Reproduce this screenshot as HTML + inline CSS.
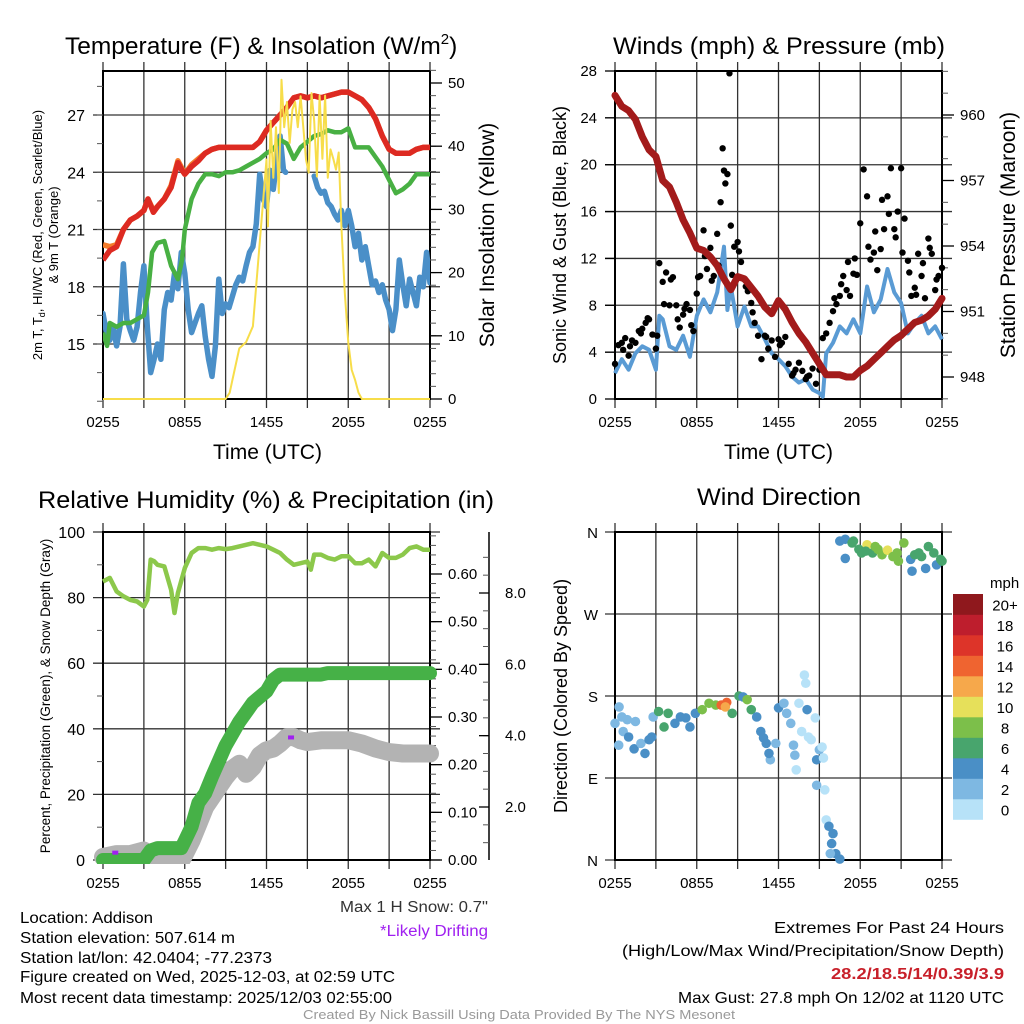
<!DOCTYPE html>
<html><head><meta charset="utf-8">
<style>
html,body{margin:0;padding:0;background:#fff;}
svg{display:block;font-family:"Liberation Sans",sans-serif;}
</style></head>
<body>
<svg id="chart" width="1024" height="1024" viewBox="0 0 1024 1024" xmlns="http://www.w3.org/2000/svg">
<rect width="1024" height="1024" fill="#fff"/>
<g id="p1"></g>
<g id="p2"></g>
<g id="p3"></g>
<g id="p4"></g>

<text x="65" y="54" font-size="24.5">Temperature (F) &amp; Insolation (W/m<tspan font-size="15" dy="-10">2</tspan><tspan dy="10">)</tspan></text>
<text x="613" y="54" font-size="24.5" textLength="332" lengthAdjust="spacingAndGlyphs">Winds (mph) &amp; Pressure (mb)</text>
<text x="38" y="508" font-size="24.5" textLength="456" lengthAdjust="spacingAndGlyphs">Relative Humidity (%) &amp; Precipitation (in)</text>
<text x="697" y="505" font-size="24.5" textLength="164" lengthAdjust="spacingAndGlyphs">Wind Direction</text>

<text x="213" y="459" font-size="21" textLength="109" lengthAdjust="spacingAndGlyphs">Time (UTC)</text>
<text x="724" y="459" font-size="21" textLength="109" lengthAdjust="spacingAndGlyphs">Time (UTC)</text>

<g font-size="13" text-anchor="middle">
<text transform="translate(42,235) rotate(-90)">2m T, T<tspan font-size="9" dy="3">d</tspan><tspan dy="-3">, HI/WC (Red, Green, Scarlet/Blue)</tspan></text>
<text transform="translate(58,235) rotate(-90)">&amp; 9m T (Orange)</text>
</g>
<text transform="translate(494,235) rotate(-90)" font-size="21" text-anchor="middle">Solar Insolation (Yellow)</text>
<text transform="translate(566,235) rotate(-90)" font-size="18" text-anchor="middle">Sonic Wind &amp; Gust (Blue, Black)</text>
<text transform="translate(1015,235) rotate(-90)" font-size="21" text-anchor="middle">Station Pressure (Maroon)</text>
<text transform="translate(50,696) rotate(-90)" font-size="13.5" text-anchor="middle">Percent, Precipitation (Green), &amp; Snow Depth (Gray)</text>
<text transform="translate(567,696) rotate(-90)" font-size="18" text-anchor="middle">Direction (Colored By Speed)</text>

<g font-size="15.5">
<text x="20" y="923" textLength="133" lengthAdjust="spacingAndGlyphs">Location: Addison</text>
<text x="20" y="943" textLength="215" lengthAdjust="spacingAndGlyphs">Station elevation: 507.614 m</text>
<text x="20" y="963" textLength="252" lengthAdjust="spacingAndGlyphs">Station lat/lon: 42.0404; -77.2373</text>
<text x="20" y="982" textLength="375" lengthAdjust="spacingAndGlyphs">Figure created on Wed, 2025-12-03, at 02:59 UTC</text>
<text x="20" y="1003" textLength="372" lengthAdjust="spacingAndGlyphs">Most recent data timestamp: 2025/12/03 02:55:00</text>
</g>
<text x="488" y="912" font-size="15.5" text-anchor="end" fill="#333" textLength="148" lengthAdjust="spacingAndGlyphs">Max 1 H Snow: 0.7"</text>
<text x="488" y="936" font-size="15.5" text-anchor="end" fill="#a020f0" textLength="108" lengthAdjust="spacingAndGlyphs">*Likely Drifting</text>
<g font-size="16" text-anchor="end">
<text x="1004" y="933" textLength="230" lengthAdjust="spacingAndGlyphs">Extremes For Past 24 Hours</text>
<text x="1004" y="956" textLength="382" lengthAdjust="spacingAndGlyphs">(High/Low/Max Wind/Precipitation/Snow Depth)</text>
<text x="1004" y="979" fill="#c8202a" font-weight="bold" textLength="173" lengthAdjust="spacingAndGlyphs">28.2/18.5/14/0.39/3.9</text>
<text x="1004" y="1003" textLength="326" lengthAdjust="spacingAndGlyphs">Max Gust: 27.8 mph On 12/02 at 1120 UTC</text>
</g>
<text x="519" y="1019" font-size="12.5" fill="#999" text-anchor="middle" textLength="432" lengthAdjust="spacingAndGlyphs">Created By Nick Bassill Using Data Provided By The NYS Mesonet</text>
</svg>
<script>
// ---- Temperature panel data (hours since 0255 UTC) ----
const tempHours = [0,0.5,1,1.5,2,2.5,3,3.3,3.7,4,4.5,5,5.5,5.8,6,6.5,7,7.5,8,8.5,9,9.5,10,10.5,11,11.5,12,12.5,13,13.5,14,14.5,15,15.5,16,16.5,17,17.5,18,18.5,19,19.5,20,20.5,21,21.5,22,22.5,23,23.5,24];
const tempRed = [19.4,19.9,20.1,21.0,21.5,21.7,22.0,22.6,21.9,22.2,22.6,23.2,24.5,24.1,23.9,24.3,24.6,25.0,25.2,25.3,25.3,25.3,25.3,25.3,25.3,25.6,26.2,26.6,27.0,27.4,27.9,28.0,27.9,28.0,27.9,28.0,28.1,28.2,28.2,28.0,27.8,27.4,26.8,25.9,25.2,25.0,25.0,25.0,25.2,25.3,25.3];
const tempOrange = [20.2,20.1,20.2,21.0,21.5,21.7,22.0,22.6,22.0,22.2,22.6,23.3,24.6,24.2,23.9,24.4,24.7,25.0,25.2,25.3,25.3,25.3,25.3,25.3,25.3,25.6,26.2,26.6,27.0,27.4,27.9,28.0,27.9,28.0,27.9,28.0,28.1,28.2,28.2,28.0,27.8,27.4,26.8,25.9,25.2,25.0,25.0,25.0,25.2,25.3,25.3];
const dewHours = [0,0.3,0.5,1,1.5,2,2.5,3,3.3,3.6,4,4.5,5,5.5,5.8,6,6.5,7,7.5,8,8.5,9,9.5,10,10.5,11,11.5,12,12.5,13,13.5,14,14.5,15,15.5,16,16.5,17,17.5,18,18.5,19,19.5,20,20.5,21,21.5,22,22.5,23,23.5,24];
const dewGreen = [15.6,14.9,16.1,15.9,16.1,16.1,16.3,16.5,17.7,19.8,20.3,20.4,19.1,18.4,19.4,21.0,22.6,23.4,23.9,23.9,23.8,24.0,24.0,24.1,24.3,24.5,24.7,25.0,25.2,25.7,25.5,24.7,25.3,25.6,25.9,26.0,26.2,26.1,26.1,26.3,25.3,25.3,25.3,24.8,24.3,23.6,22.9,23.1,23.4,23.9,23.9,23.9];
const wcHours = [0,0.25,0.5,0.75,1,1.25,1.5,1.75,2,2.25,2.5,2.75,3,3.25,3.5,3.75,4,4.25,4.5,4.75,5,5.25,5.5,5.75,6,6.25,6.5,6.75,7,7.25,7.5,7.75,8,8.25,8.5,8.75,9,9.25,9.5,9.75,10,10.25,10.5,10.75,11,11.25,11.5,11.75,12,12.25,12.5,12.75,13,13.25,13.4,15.5,15.75,16,16.25,16.5,16.75,17,17.25,17.5,17.75,18,18.25,18.5,18.75,19,19.25,19.5,19.75,20,20.25,20.5,20.75,21,21.25,21.5,21.75,22,22.25,22.5,22.75,23,23.25,23.5,23.75,24];
const wcBlue = [16.6,15.6,15.2,15.9,14.9,15.9,19.2,16.3,15.7,15.2,15.9,17.7,19.1,15.9,13.5,14.2,15.0,14.2,16.8,17.7,17.3,18.7,17.9,19.8,18.7,16.8,15.6,16.1,16.6,17.0,15.4,14.2,13.3,14.9,18.4,16.6,17.1,16.9,17.5,18.1,18.5,18.3,19.1,19.8,20.1,21.3,23.9,22.6,22.2,24.1,23.1,24.6,25.9,24.1,24.0,23.8,23.2,22.9,23.0,22.4,22.2,21.8,21.5,22.0,21.2,22.0,21.2,20.1,20.8,19.4,20.1,19.1,18.1,18.3,17.7,18.1,17.3,16.8,15.7,16.8,19.4,18.1,17.0,18.4,17.7,17.0,18.5,18.0,19.8,18.2];
const solarHours = [0,9,9.3,9.5,10,10.5,11,11.5,12,12.1,12.3,12.5,12.7,12.9,13.1,13.3,13.5,13.7,13.9,14.1,14.3,14.5,14.7,14.9,15.1,15.3,15.5,15.7,15.9,16.1,16.3,16.5,16.7,16.9,17.1,17.3,17.5,17.75,18,18.25,18.5,18.75,19,24];
const solarVals = [0,0,1,3,8,9,11.5,24.7,37.9,27.3,44,35,43,32.6,50.5,43,47,40.5,45.8,47,43,47.9,43,37.9,35.8,48.4,44,35.2,48,38,48,35,39.5,38,36.3,39,27.3,16.8,8.9,4.6,3,1,0,0];
const tempTicks = [15,18,21,24,27];
const solarTicks = [0,10,20,30,40,50];
const timeLabels = ["0255","0855","1455","2055","0255"];

// ---- Wind / pressure data ----
const presHours = [0,0.5,1,1.5,2,2.5,3,3.5,4,4.5,5,5.5,6,6.5,7,7.5,8,8.5,9,9.5,10,10.5,11,11.5,12,12.5,13,13.5,14,14.5,15,15.5,16,16.5,17,17.5,18,18.5,19,19.5,20,20.5,21,21.5,22,22.5,23,23.5,24];
const presVals = [960.9,960.4,960.2,959.8,959.0,958.4,958.1,957.0,956.7,956.0,955.2,954.6,953.9,953.8,953.5,953.1,952.5,952.0,952.6,952.5,952.1,951.7,951.2,950.9,951.5,951.1,950.5,950.0,949.6,949.1,948.6,948.1,948.1,948.1,948.0,948.0,948.3,948.5,948.8,949.1,949.4,949.7,949.9,950.2,950.5,950.6,950.8,951.1,951.6];
const windHours = [0,0.5,1,1.5,2,2.5,3,3.25,3.5,4,4.5,5,5.5,6,6.5,7,7.5,8,8.25,8.5,9,9.5,10,10.5,11,11.5,12,12.5,13,13.5,14,14.5,15,15.25,15.5,16,16.5,17,17.5,18,18.5,19,19.5,20,20.5,21,21.5,22,22.5,23,23.5,24];
const windVals = [2.2,3.4,2.5,3.9,4.5,4.2,2.5,7.1,6.8,4.5,4.2,5.4,3.6,7.1,8.5,7.4,9.1,13.0,7.6,9.6,6.2,7.9,6.2,6.2,5.1,3.9,3.4,2.8,1.9,1.4,1.7,0.8,0.5,0.2,3.9,4.8,6.2,5.6,6.8,5.6,9.6,7.4,8.5,11.1,9.1,8.2,5.6,6.5,7.1,5.6,6.2,5.1];
const gustHours = [0,0.25,0.5,0.75,1,1.25,1.5,1.75,2,2.25,2.5,2.75,3,3.25,3.5,3.75,4,4.25,4.5,4.75,5,5.25,5.5,5.75,6,6.25,6.5,6.75,7,7.25,7.5,7.75,7.9,8,8.1,8.25,8.4,8.5,8.75,9,9.25,9.5,9.75,10,10.25,10.5,10.75,11,11.25,11.5,11.75,12,12.25,12.5,12.75,13,13.25,13.5,13.75,14,14.25,14.5,14.75,15,15.25,15.5,15.75,16,16.25,16.5,16.75,17,17.25,17.5,17.75,18,18.25,18.5,18.75,19,19.25,19.5,19.75,20,20.25,20.5,20.75,21,21.25,21.5,21.75,22,22.25,22.5,22.75,23,23.25,23.5,23.75,24,0.6,1.1,1.9,2.4,3.1,3.6,4.1,4.6,5.1,5.6,6.1,6.6,7.1,7.6,8.6,9.1,9.6,10.1,11.1,12.1,13.1,14.1,16.1,16.6,17.1,17.6,18.6,19.1,19.6,20.1,20.6,21.1,21.6,22.1,22.6,23.1,23.6];
const gustVals = [3.0,4.6,4.8,5.2,3.7,5.0,4.8,5.8,6.0,6.5,6.8,5.5,4.3,11.6,10.0,10.8,8.0,10.4,8.0,6.1,7.2,8.1,7.6,5.8,9.0,10.5,14.4,11.1,12.9,10.5,14.1,16.8,21.4,19.5,18.4,19.2,27.8,14.8,13.0,13.4,11.7,10.2,9.2,8.2,6.5,5.4,3.4,5.4,4.3,5.0,3.6,5.1,4.8,5.3,3.0,2.0,2.5,3.1,2.4,1.7,2.0,2.6,1.3,2.5,5.2,5.6,6.5,7.5,8.1,8.8,10.5,9.3,8.8,10.7,10.6,15.0,19.6,17.3,11.9,12.5,11.0,12.8,14.5,17.3,19.7,14.5,16.0,19.7,15.4,11.8,8.8,9.5,12.4,10.5,8.6,13.7,12.4,9.3,10.5,11.2,4.2,4.5,5.6,6.9,5.4,8.1,10.2,6.8,7.7,6.3,10.4,12.2,10.1,11.4,10.6,12.6,9.6,7.4,5.3,4.6,2.2,1.9,8.6,9.8,11.7,12.0,13.0,14.3,17.0,15.8,13.8,12.5,10.8,8.9,11.6,12.9,10.2];
const windTicks = [0,4,8,12,16,20,24,28];
const presTicks = [948,951,954,957,960];

// ---- Humidity / precip data ----
const rhHours = [0,0.5,1,1.5,2,2.5,3,3.25,3.5,3.75,4,4.5,5,5.25,5.5,6,6.5,7,7.5,8,8.5,9,9.5,10,10.5,11,11.5,12,12.5,13,13.5,14,14.5,15,15.25,15.5,16,16.5,17,17.5,18,18.5,19,19.5,20,20.5,21,21.5,22,22.5,23,23.5,24];
const rhVals = [84.9,86,81.9,80.4,79.3,78.8,77.3,79.3,91.6,91.1,90.0,89.5,82.4,75.3,81.4,89,93.6,95.1,95.1,94.6,95.1,94.8,95.1,95.6,96.1,96.6,96.1,95.6,94.6,93.6,91.6,90.0,90.5,91,88.5,93.1,93.1,92.1,91.6,92.6,92.6,90.5,90.5,91.6,89.5,93.6,92.1,92.1,93.1,95.1,95.6,94.6,94.6];
const precipHours = [0,3,3.5,4,5,5.75,6,6.5,7,7.5,8,9,10,11,12,12.5,13,14,16,16.5,24];
const precipVals = [0,0,0.02,0.025,0.025,0.025,0.04,0.07,0.12,0.14,0.175,0.24,0.29,0.33,0.354,0.378,0.389,0.389,0.389,0.392,0.392];
const snowHours = [0,1,2,3,3.5,5,5.75,6,6.5,7,7.5,8,8.5,9,9.5,10,10.5,11,11.5,12,12.5,13,13.5,14,14.5,15,16,17,18,19,20,21,22,24];
const snowVals = [0.6,0.68,0.68,0.78,0.54,0.54,0.5,0.68,1.06,1.53,2.0,2.28,2.56,2.84,3.07,3.21,2.93,3.12,3.45,3.59,3.64,3.78,3.96,3.96,3.87,3.82,3.87,3.87,3.87,3.78,3.64,3.54,3.5,3.5];
const driftHours = [0.9,13.8];
const driftSnow = [0.72,3.95];
const pctTicks = [0,20,40,60,80,100];
const precipTicks = [0,0.1,0.2,0.3,0.4,0.5,0.6];
const snowTicks = [2,4,6,8];

// ---- Wind direction data ----
const dirHours = [0,0.3,0.5,0.9,1.5,0.6,0.27,1.0,1.4,1.9,2.2,2.5,2.7,2.8,3.2,3.6,3.9,4.4,4.8,5.2,5.5,5.9,6.4,6.9,7.4,7.8,8.2,8.1,8.6,9.1,9.4,9.7,10,10.4,10.7,10.9,11.1,11.4,11.3,11.8,12,12.4,12.6,12.9,13.1,13.2,13.3,13.5,13.7,13.9,14,14.1,14.2,14.4,14.7,14.8,15,15.2,15.3,14.8,15.4,15.5,15.7,16,15.9,16.2,16.5,15.8,16.5,16.9,17.4,16.9,17.9,18.1,18.5,18.9,19.3,19.6,20,20.4,20.8,21.2,21.7,21.8,22,22.5,22.8,23,23.4,23.6,23.9,24,17.5,18.4,19.1,20.7,22.3];
const dirDeg = [150,168,157,154,152,141,126,135,122,128,117,132,135,157,163,146,161,150,157,156,146,161,165,172,170,170,173,168,161,180,179,176,165,157,141,134,128,110,117,128,167,172,161,150,126,115,99,172,141,203,194,165,135,132,156,110,121,124,112,82,77,44,37,29,18,7,1,7,350,352,348,331,341,337,346,337,341,335,340,333,328,348,330,317,335,333,320,344,337,324,330,328,350,339,344,337,337];
const dirSpeed = [2,2,2,2,2,2,2,4,4,2,4,4,4,2,6,6,6,4,4,4,4,4,8,8,8,14,14,12,6,6,4,8,6,4,4,4,4,2,4,2,4,2,2,2,2,2,0,0,0,0,0,4,0,0,0,4,2,0,0,2,0,0,4,4,4,4,4,2,4,4,6,4,6,6,10,6,8,8,10,8,8,8,4,4,6,6,4,6,6,4,6,6,6,6,8,8,6];
const dirLabels = ["N","E","S","W","N"];
const speedLabels = ["0","2","4","6","8","10","12","14","16","18","20+"];
const speedColors = ["#b7e2f8","#7eb8e2","#4a8fc6","#48a56d","#7cbf4a","#e6e05a","#f6a84b","#ef6430","#dd3429","#be1e2d","#8f181d"];

const NS = "http://www.w3.org/2000/svg";
function mk(parent, tag, attrs){ const e=document.createElementNS(NS,tag); for(const k in attrs) e.setAttribute(k,attrs[k]); parent.appendChild(e); return e; }
function lin(d0,d1,r0,r1){ return v => r0+(v-d0)/(d1-d0)*(r1-r0); }
function pathD(xs, ys, xf, yf){ let d=""; for(let i=0;i<xs.length;i++){ d += (i?"L":"M")+xf(xs[i]).toFixed(1)+","+yf(ys[i]).toFixed(1); } return d; }

function frame(g, L, R, T, B, xf, hLines, yf){
  for(let h=0; h<=24; h+=3){
    const x=xf(h);
    const gl=mk(g,"line",{x1:x,x2:x,y1:T-9,y2:B+9,stroke:"#333","stroke-width":1.3});
    
    
  }
  hLines.forEach(v=>{
    const y=yf(v);
    const gl=mk(g,"line",{x1:L-10,x2:R+10,y1:y,y2:y,stroke:"#333","stroke-width":1.3});
    
    
  });
  const f=mk(g,"rect",{x:L,y:T,width:R-L,height:B-T,fill:"none",stroke:"#000","stroke-width":2});
  
  
  timeLabels.forEach((lab,i)=>{
    const t=mk(g,"text",{x:xf(i*6),y:B+28,"font-size":15,"text-anchor":"middle"});
    t.textContent=lab;
    
    
  });
}
function minorTicks(g, x, from, to, step, yf, dir){
  for(let v=from; v<=to+1e-9; v+=step){
    const y=yf(v);
    mk(g,"line",{x1:x,x2:x+dir*6,y1:y,y2:y,stroke:"#555","stroke-width":1});
  }
}

const L=103, R=430, L2=615, R2=942, T1=71, B1=399, T2=532, B2=860;
const xA = lin(0,24,L,R), xB = lin(0,24,L2,R2);

// ---------- Panel 1 ----------
(function(){
  const g=document.getElementById("p1");
  const yT = lin(15,27,344,115);
  const yS = lin(0,50,399,83);
  frame(g,L,R,T1,B1,xA,tempTicks,yT);
  minorTicks(g,L,12.0,29.0,1.5,yT,-1);
  minorTicks(g,R,0,52,2,yS,1);
  tempTicks.forEach(v=>{ const t=mk(g,"text",{x:85,y:yT(v)+6,"font-size":16,"text-anchor":"end"}); t.textContent=v;
      });
  solarTicks.forEach(v=>{ mk(g,"line",{x1:R,x2:R+12,y1:yS(v),y2:yS(v),stroke:"#000","stroke-width":1.3});
    const t=mk(g,"text",{x:448,y:yS(v)+5,"font-size":15}); t.textContent=v;
      });
  const cg=mk(g,"g",{}); cg.setAttribute("clip-path","url(#c1)");
  const cp=mk(g,"clipPath",{id:"c1"}); mk(cp,"rect",{x:L,y:T1-2,width:R-L,height:B1-T1+4});
  const wc1=mk(cg,"path",{d:pathD(wcHours.slice(0,55),wcBlue.slice(0,55),xA,yT),fill:"none",stroke:"#4a8fc8","stroke-width":5.5,"stroke-linejoin":"round","stroke-linecap":"round"});
   
  const dw=mk(cg,"path",{d:pathD(dewHours,dewGreen,xA,yT),fill:"none",stroke:"#48b043","stroke-width":4.5,"stroke-linejoin":"round"});
   
  const wc2=mk(cg,"path",{d:pathD(wcHours.slice(55),wcBlue.slice(55),xA,yT),fill:"none",stroke:"#4a8fc8","stroke-width":5.5,"stroke-linejoin":"round","stroke-linecap":"round"});
   
  const or=mk(cg,"path",{d:pathD(tempHours,tempOrange,xA,yT),fill:"none",stroke:"#f47c2b","stroke-width":5.5,"stroke-linejoin":"round"});
   
  const rd=mk(cg,"path",{d:pathD(tempHours,tempRed,xA,yT),fill:"none",stroke:"#dd2a22","stroke-width":5.5,"stroke-linejoin":"round"});
   
  const sl=mk(cg,"path",{d:pathD(solarHours,solarVals,xA,yS),fill:"none",stroke:"#f7dd4a","stroke-width":2,"stroke-linejoin":"round"});
   
})();

// ---------- Panel 2 ----------
(function(){
  const g=document.getElementById("p2");
  const yW = lin(0,28,399,71);
  const yP = lin(948,960,377,115);
  frame(g,L2,R2,T1,B1,xB,windTicks.slice(1,7),yW);
  minorTicks(g,R2,947,962,1,yP,1);
  windTicks.forEach(v=>{ mk(g,"line",{x1:L2-10,x2:L2,y1:yW(v),y2:yW(v),stroke:"#000","stroke-width":1.3});
    const t=mk(g,"text",{x:597,y:yW(v)+5,"font-size":15,"text-anchor":"end"}); t.textContent=v;
      });
  presTicks.forEach(v=>{ mk(g,"line",{x1:R2,x2:R2+12,y1:yP(v),y2:yP(v),stroke:"#000","stroke-width":1.3});
    const t=mk(g,"text",{x:960,y:yP(v)+5,"font-size":15}); t.textContent=v;
      });
  const wl=mk(g,"path",{d:pathD(windHours,windVals,xB,yW),fill:"none",stroke:"#5a9bd4","stroke-width":4,"stroke-linejoin":"round"});
   
  gustHours.forEach((h,i)=>{
    const c=mk(g,"circle",{cx:xB(h),cy:yW(gustVals[i]),r:3.2,fill:"#000"});
    
    
  });
  const pl=mk(g,"path",{d:pathD(presHours,presVals,xB,yP),fill:"none",stroke:"#a31b1b","stroke-width":7,"stroke-linejoin":"round","stroke-linecap":"round"});
   
})();

// ---------- Panel 3 ----------
(function(){
  const g=document.getElementById("p3");
  const yPc = lin(0,100,860,532);
  const yPr = lin(0,0.6,860,574);
  const ySn = lin(2,8,807,593);
  frame(g,L,R,T2,B2,xA,[0,20,40,60,80,100],yPc);
  minorTicks(g,L,10,90,20,yPc,-1);
  minorTicks(g,R,0,0.68,0.02,yPr,1);
  pctTicks.forEach(v=>{ const t=mk(g,"text",{x:85,y:yPc(v)+6,"font-size":16,"text-anchor":"end"}); t.textContent=v;
      });
  precipTicks.forEach(v=>{ mk(g,"line",{x1:R,x2:R+12,y1:yPr(v),y2:yPr(v),stroke:"#000","stroke-width":1.3});
    const t=mk(g,"text",{x:448,y:yPr(v)+5,"font-size":15}); t.textContent=v.toFixed(2);
      });
  const ax=mk(g,"line",{x1:489,x2:489,y1:532,y2:860,stroke:"#000","stroke-width":1.5});
   
  for(let v=0.5; v<=9.3; v+=0.5){ if(ySn(v)<532||ySn(v)>860) continue; mk(g,"line",{x1:483,x2:489,y1:ySn(v),y2:ySn(v),stroke:"#555","stroke-width":1}); }
  snowTicks.forEach(v=>{ mk(g,"line",{x1:479,x2:489,y1:ySn(v),y2:ySn(v),stroke:"#000","stroke-width":1.3});
    const t=mk(g,"text",{x:505,y:ySn(v)+5,"font-size":15}); t.textContent=v.toFixed(1);
      });
  const cg=mk(g,"g",{}); cg.setAttribute("clip-path","url(#c3)");
  const cp=mk(g,"clipPath",{id:"c3"}); mk(cp,"rect",{x:L-10,y:T2-10,width:R-L+20,height:B2-T2+14});
  const sn=mk(cg,"path",{d:pathD(snowHours,snowVals,xA,ySn),fill:"none",stroke:"#b3b3b3","stroke-width":18,"stroke-linejoin":"round","stroke-linecap":"round"});
   
  const pr=mk(cg,"path",{d:pathD(precipHours,precipVals,xA,yPr),fill:"none",stroke:"#46b147","stroke-width":14,"stroke-linejoin":"round","stroke-linecap":"round"});
   
  const rh=mk(cg,"path",{d:pathD(rhHours,rhVals,xA,yPc),fill:"none",stroke:"#8cc84b","stroke-width":4.5,"stroke-linejoin":"round"});
   
  driftHours.forEach((h,i)=>{
    const r=mk(g,"rect",{x:xA(h)-3,y:ySn(driftSnow[i])-2,width:6,height:4,fill:"#a020f0"});
    
    
  });
})();

// ---------- Panel 4 ----------
(function(){
  const g=document.getElementById("p4");
  const yD = lin(0,360,860,532);
  frame(g,L2,R2,T2,B2,xB,[0,90,180,270,360],yD);
  dirLabels.forEach((lab,i)=>{ const t=mk(g,"text",{x:598,y:yD(i*90)+6,"font-size":15,"text-anchor":"end"}); t.textContent=lab;
      });
  dirHours.forEach((h,i)=>{
    const idx=Math.min(10,Math.round(dirSpeed[i]/2));
    const c=mk(g,"circle",{cx:xB(h),cy:yD(dirDeg[i]),r:4.8,fill:speedColors[idx]});
    
    
  });
  const lg=mk(g,"g",{});
  
  
  const t0=mk(lg,"text",{x:990,y:588,"font-size":15}); t0.textContent="mph";
  const top=594, bh=20.5;
  speedLabels.forEach((lab,i)=>{
    const y=top+(10-i)*bh;
    const r=mk(lg,"rect",{x:953,y:y,width:30,height:bh+0.3,fill:speedColors[i]});
    
    
    const t=mk(lg,"text",{x:1005,y:y+bh/2+6,"font-size":15,"text-anchor":"middle"}); t.textContent=lab;
     
  });
})();
</script>
</body></html>
